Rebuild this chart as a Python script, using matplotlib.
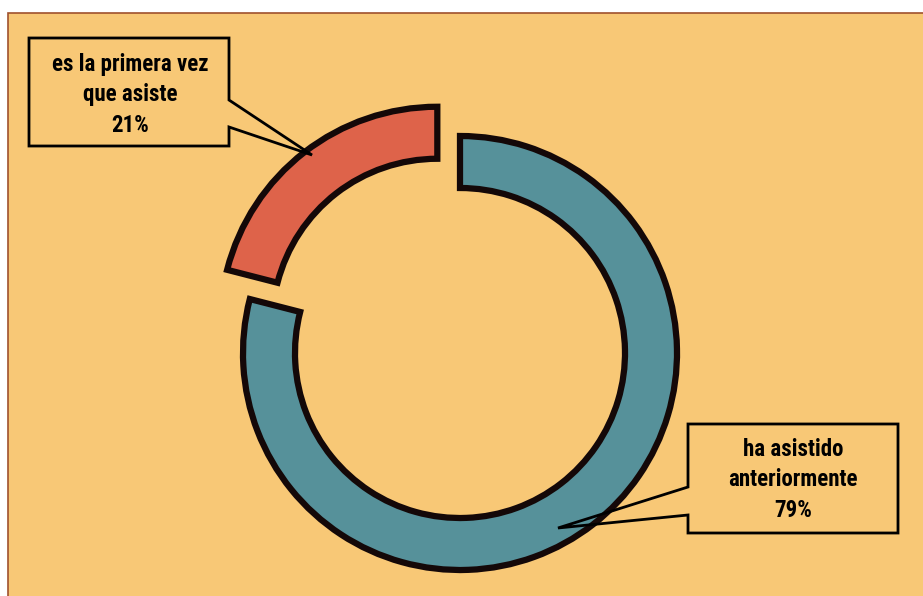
import matplotlib.pyplot as plt
from matplotlib.patches import Rectangle, Polygon

# data
labels = ["ha asistido\nanteriormente", "es la primera vez\nque asiste"]
shares = [79, 21]
colors = ["#56919A", "#DE634A"]

W, H = 923, 596
bg = "#F8C876"


def py(y):
    # pixel row (from top) -> data y
    return H - y


fig = plt.figure(figsize=(W / 100, H / 100), dpi=100, facecolor="white")
ax = fig.add_axes([0, 0, 1, 1])

# chart area
ax.add_patch(Rectangle((8, py(596) - 5), W, py(13) - py(596) + 5,
                       facecolor=bg, edgecolor="#A0522D", lw=1.2, zorder=0))

radius = 217
ring = 52
wedges, _ = ax.pie(shares, colors=colors, startangle=90, counterclock=False,
                   radius=radius, center=(460, py(353)), explode=[0, 37],
                   wedgeprops=dict(width=ring, edgecolor="#140808",
                                   linewidth=4.5, joinstyle="miter"),
                   frame=True)

# callout boxes (pixel layout)
box1 = [(29, 38), (229, 38), (229, 100), (312, 155), (229, 127),
        (229, 146), (29, 146)]
box2 = [(688, 424), (898, 424), (898, 533), (688, 533), (688, 515),
        (558, 528), (688, 487)]
for pts in (box1, box2):
    ax.add_patch(Polygon([(x, py(y)) for x, y in pts], closed=True,
                         facecolor="none", edgecolor="black", lw=2,
                         joinstyle="miter", zorder=5))

font = dict(family=["Roboto Condensed", "Liberation Sans Narrow", "Roboto"],
            weight="bold", fontsize=16.5, ha="center", va="center",
            linespacing=1.42, zorder=6)
ax.text(130, py(95), f"{labels[1]}\n{shares[1]}%", **font)
ax.text(793, py(480), f"{labels[0]}\n{shares[0]}%", **font)

ax.set_xlim(0, W)
ax.set_ylim(0, H)
ax.set_aspect("auto")
ax.axis("off")

fig.savefig("out.png", dpi=100, facecolor="white")
